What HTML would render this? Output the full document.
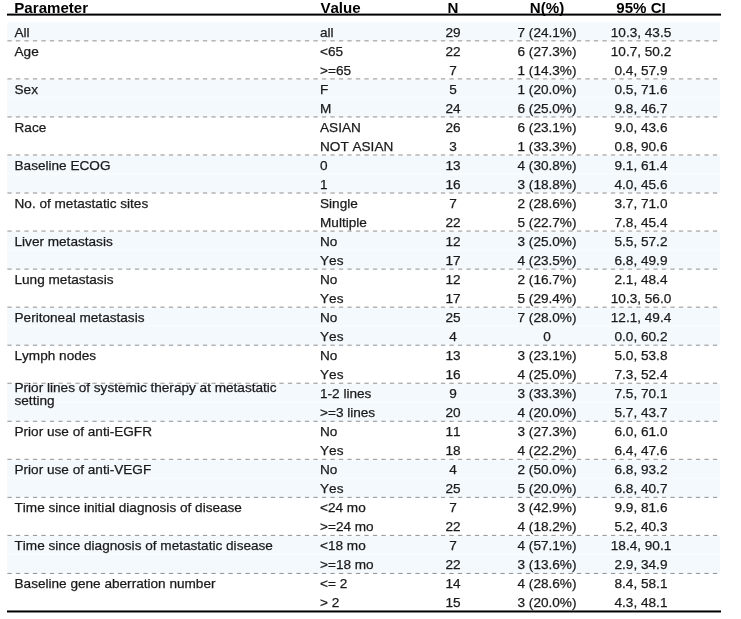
<!DOCTYPE html>
<html><head><meta charset="utf-8"><title>Table</title>
<style>
html,body{margin:0;padding:0;background:#fff;}
body{width:741px;height:619px;position:relative;overflow:hidden;font-family:"Liberation Sans",Arial,sans-serif;color:#1a1a1a;font-kerning:none;}
.h{position:absolute;top:1px;height:14px;line-height:14px;font-size:15.1px;font-weight:bold;color:#000;white-space:nowrap;}
.r{position:absolute;left:7px;width:714px;height:19px;}
.b{background:#f2f7fc;}
.c{-webkit-text-stroke:0.25px #1a1a1a;position:absolute;height:19px;line-height:19px;font-size:13.6px;white-space:nowrap;}
.p{left:14.5px;}
.v{left:320px;}
.n{left:403px;width:100px;text-align:center;}
.q{left:497px;width:100px;text-align:center;}
.ci{left:591px;width:100px;text-align:center;}
.d{position:absolute;left:7px;width:714px;height:1px;background:repeating-linear-gradient(90deg,#9a9a9a 0,#9a9a9a 4px,transparent 4px,transparent 8.5px);}
.hl{position:absolute;left:7px;width:714px;height:2px;background:#000;}
.two{line-height:13px;height:26px;}
</style></head><body>

<svg width="741" height="619" viewBox="0 0 741 619" style="position:absolute;left:0;top:0">
<rect x="7.2" y="22.35" width="713" height="18.52" fill="#f4f9fd"/>
<rect x="7.2" y="79.41" width="713" height="37.54" fill="#f4f9fd"/>
<rect x="7.2" y="97.33" width="713" height="1.2" fill="#f9fcfe"/>
<rect x="7.2" y="155.49" width="713" height="37.54" fill="#f4f9fd"/>
<rect x="7.2" y="173.41" width="713" height="1.2" fill="#f9fcfe"/>
<rect x="7.2" y="231.57" width="713" height="37.54" fill="#f4f9fd"/>
<rect x="7.2" y="249.49" width="713" height="1.2" fill="#f9fcfe"/>
<rect x="7.2" y="307.65" width="713" height="37.54" fill="#f4f9fd"/>
<rect x="7.2" y="325.57" width="713" height="1.2" fill="#f9fcfe"/>
<rect x="7.2" y="383.73" width="713" height="37.54" fill="#f4f9fd"/>
<rect x="7.2" y="401.65" width="713" height="1.2" fill="#f9fcfe"/>
<rect x="7.2" y="459.81" width="713" height="37.54" fill="#f4f9fd"/>
<rect x="7.2" y="477.73" width="713" height="1.2" fill="#f9fcfe"/>
<rect x="7.2" y="535.89" width="713" height="37.54" fill="#f4f9fd"/>
<rect x="7.2" y="553.81" width="713" height="1.2" fill="#f9fcfe"/>
<line x1="7.4" x2="717.4" y1="40.87" y2="40.87" stroke="#909090" stroke-width="1" stroke-dasharray="4.3 4.2"/>
<line x1="7.4" x2="717.4" y1="78.91" y2="78.91" stroke="#909090" stroke-width="1" stroke-dasharray="4.3 4.2"/>
<line x1="7.4" x2="717.4" y1="116.95" y2="116.95" stroke="#909090" stroke-width="1" stroke-dasharray="4.3 4.2"/>
<line x1="7.4" x2="717.4" y1="154.99" y2="154.99" stroke="#909090" stroke-width="1" stroke-dasharray="4.3 4.2"/>
<line x1="7.4" x2="717.4" y1="193.03" y2="193.03" stroke="#909090" stroke-width="1" stroke-dasharray="4.3 4.2"/>
<line x1="7.4" x2="717.4" y1="231.07" y2="231.07" stroke="#909090" stroke-width="1" stroke-dasharray="4.3 4.2"/>
<line x1="7.4" x2="717.4" y1="269.11" y2="269.11" stroke="#909090" stroke-width="1" stroke-dasharray="4.3 4.2"/>
<line x1="7.4" x2="717.4" y1="307.15" y2="307.15" stroke="#909090" stroke-width="1" stroke-dasharray="4.3 4.2"/>
<line x1="7.4" x2="717.4" y1="345.19" y2="345.19" stroke="#909090" stroke-width="1" stroke-dasharray="4.3 4.2"/>
<line x1="7.4" x2="717.4" y1="383.23" y2="383.23" stroke="#909090" stroke-width="1" stroke-dasharray="4.3 4.2"/>
<line x1="7.4" x2="717.4" y1="421.27" y2="421.27" stroke="#909090" stroke-width="1" stroke-dasharray="4.3 4.2"/>
<line x1="7.4" x2="717.4" y1="459.31" y2="459.31" stroke="#909090" stroke-width="1" stroke-dasharray="4.3 4.2"/>
<line x1="7.4" x2="717.4" y1="497.35" y2="497.35" stroke="#909090" stroke-width="1" stroke-dasharray="4.3 4.2"/>
<line x1="7.4" x2="717.4" y1="535.39" y2="535.39" stroke="#909090" stroke-width="1" stroke-dasharray="4.3 4.2"/>
<line x1="7.4" x2="717.4" y1="573.43" y2="573.43" stroke="#909090" stroke-width="1" stroke-dasharray="4.3 4.2"/>
<rect x="7" y="13.6" width="714" height="2" fill="#000"/>
<rect x="7" y="610.47" width="714" height="2" fill="#000"/>
</svg>
<div class="h" style="left:14.3px">Parameter</div>
<div class="h" style="left:320.4px">Value</div>
<div class="h n" style="left:403px;width:100px;text-align:center">N</div>
<div class="h" style="left:497px;width:100px;text-align:center">N(%)</div>
<div class="h" style="left:591px;width:100px;text-align:center">95% CI</div>
<div class="c p" style="top:22.85px">All</div>
<div class="c v" style="top:22.85px">all</div>
<div class="c n" style="top:22.85px">29</div>
<div class="c q" style="top:22.85px">7 (24.1%)</div>
<div class="c ci" style="top:22.85px">10.3, 43.5</div>
<div class="c p" style="top:41.870000000000005px">Age</div>
<div class="c v" style="top:41.870000000000005px">&lt;65</div>
<div class="c n" style="top:41.870000000000005px">22</div>
<div class="c q" style="top:41.870000000000005px">6 (27.3%)</div>
<div class="c ci" style="top:41.870000000000005px">10.7, 50.2</div>
<div class="c v" style="top:60.89px">&gt;=65</div>
<div class="c n" style="top:60.89px">7</div>
<div class="c q" style="top:60.89px">1 (14.3%)</div>
<div class="c ci" style="top:60.89px">0.4, 57.9</div>
<div class="c p" style="top:79.91px">Sex</div>
<div class="c v" style="top:79.91px">F</div>
<div class="c n" style="top:79.91px">5</div>
<div class="c q" style="top:79.91px">1 (20.0%)</div>
<div class="c ci" style="top:79.91px">0.5, 71.6</div>
<div class="c v" style="top:98.93px">M</div>
<div class="c n" style="top:98.93px">24</div>
<div class="c q" style="top:98.93px">6 (25.0%)</div>
<div class="c ci" style="top:98.93px">9.8, 46.7</div>
<div class="c p" style="top:117.94999999999999px">Race</div>
<div class="c v" style="top:117.94999999999999px">ASIAN</div>
<div class="c n" style="top:117.94999999999999px">26</div>
<div class="c q" style="top:117.94999999999999px">6 (23.1%)</div>
<div class="c ci" style="top:117.94999999999999px">9.0, 43.6</div>
<div class="c v" style="top:136.97px">NOT ASIAN</div>
<div class="c n" style="top:136.97px">3</div>
<div class="c q" style="top:136.97px">1 (33.3%)</div>
<div class="c ci" style="top:136.97px">0.8, 90.6</div>
<div class="c p" style="top:155.98999999999998px">Baseline ECOG</div>
<div class="c v" style="top:155.98999999999998px">0</div>
<div class="c n" style="top:155.98999999999998px">13</div>
<div class="c q" style="top:155.98999999999998px">4 (30.8%)</div>
<div class="c ci" style="top:155.98999999999998px">9.1, 61.4</div>
<div class="c v" style="top:175.01px">1</div>
<div class="c n" style="top:175.01px">16</div>
<div class="c q" style="top:175.01px">3 (18.8%)</div>
<div class="c ci" style="top:175.01px">4.0, 45.6</div>
<div class="c p" style="top:194.03px">No. of metastatic sites</div>
<div class="c v" style="top:194.03px">Single</div>
<div class="c n" style="top:194.03px">7</div>
<div class="c q" style="top:194.03px">2 (28.6%)</div>
<div class="c ci" style="top:194.03px">3.7, 71.0</div>
<div class="c v" style="top:213.04999999999998px">Multiple</div>
<div class="c n" style="top:213.04999999999998px">22</div>
<div class="c q" style="top:213.04999999999998px">5 (22.7%)</div>
<div class="c ci" style="top:213.04999999999998px">7.8, 45.4</div>
<div class="c p" style="top:232.07px">Liver metastasis</div>
<div class="c v" style="top:232.07px">No</div>
<div class="c n" style="top:232.07px">12</div>
<div class="c q" style="top:232.07px">3 (25.0%)</div>
<div class="c ci" style="top:232.07px">5.5, 57.2</div>
<div class="c v" style="top:251.09px">Yes</div>
<div class="c n" style="top:251.09px">17</div>
<div class="c q" style="top:251.09px">4 (23.5%)</div>
<div class="c ci" style="top:251.09px">6.8, 49.9</div>
<div class="c p" style="top:270.11px">Lung metastasis</div>
<div class="c v" style="top:270.11px">No</div>
<div class="c n" style="top:270.11px">12</div>
<div class="c q" style="top:270.11px">2 (16.7%)</div>
<div class="c ci" style="top:270.11px">2.1, 48.4</div>
<div class="c v" style="top:289.13px">Yes</div>
<div class="c n" style="top:289.13px">17</div>
<div class="c q" style="top:289.13px">5 (29.4%)</div>
<div class="c ci" style="top:289.13px">10.3, 56.0</div>
<div class="c p" style="top:308.15000000000003px">Peritoneal metastasis</div>
<div class="c v" style="top:308.15000000000003px">No</div>
<div class="c n" style="top:308.15000000000003px">25</div>
<div class="c q" style="top:308.15000000000003px">7 (28.0%)</div>
<div class="c ci" style="top:308.15000000000003px">12.1, 49.4</div>
<div class="c v" style="top:327.17px">Yes</div>
<div class="c n" style="top:327.17px">4</div>
<div class="c q" style="top:327.17px">0</div>
<div class="c ci" style="top:327.17px">0.0, 60.2</div>
<div class="c p" style="top:346.19px">Lymph nodes</div>
<div class="c v" style="top:346.19px">No</div>
<div class="c n" style="top:346.19px">13</div>
<div class="c q" style="top:346.19px">3 (23.1%)</div>
<div class="c ci" style="top:346.19px">5.0, 53.8</div>
<div class="c v" style="top:365.21000000000004px">Yes</div>
<div class="c n" style="top:365.21000000000004px">16</div>
<div class="c q" style="top:365.21000000000004px">4 (25.0%)</div>
<div class="c ci" style="top:365.21000000000004px">7.3, 52.4</div>
<div class="c p two" style="top:381.23px">Prior lines of systemic therapy at metastatic<br>setting</div>
<div class="c v" style="top:384.23px">1-2 lines</div>
<div class="c n" style="top:384.23px">9</div>
<div class="c q" style="top:384.23px">3 (33.3%)</div>
<div class="c ci" style="top:384.23px">7.5, 70.1</div>
<div class="c v" style="top:403.25px">&gt;=3 lines</div>
<div class="c n" style="top:403.25px">20</div>
<div class="c q" style="top:403.25px">4 (20.0%)</div>
<div class="c ci" style="top:403.25px">5.7, 43.7</div>
<div class="c p" style="top:422.27000000000004px">Prior use of anti-EGFR</div>
<div class="c v" style="top:422.27000000000004px">No</div>
<div class="c n" style="top:422.27000000000004px">11</div>
<div class="c q" style="top:422.27000000000004px">3 (27.3%)</div>
<div class="c ci" style="top:422.27000000000004px">6.0, 61.0</div>
<div class="c v" style="top:441.29px">Yes</div>
<div class="c n" style="top:441.29px">18</div>
<div class="c q" style="top:441.29px">4 (22.2%)</div>
<div class="c ci" style="top:441.29px">6.4, 47.6</div>
<div class="c p" style="top:460.31px">Prior use of anti-VEGF</div>
<div class="c v" style="top:460.31px">No</div>
<div class="c n" style="top:460.31px">4</div>
<div class="c q" style="top:460.31px">2 (50.0%)</div>
<div class="c ci" style="top:460.31px">6.8, 93.2</div>
<div class="c v" style="top:479.33000000000004px">Yes</div>
<div class="c n" style="top:479.33000000000004px">25</div>
<div class="c q" style="top:479.33000000000004px">5 (20.0%)</div>
<div class="c ci" style="top:479.33000000000004px">6.8, 40.7</div>
<div class="c p" style="top:498.35px">Time since initial diagnosis of disease</div>
<div class="c v" style="top:498.35px">&lt;24 mo</div>
<div class="c n" style="top:498.35px">7</div>
<div class="c q" style="top:498.35px">3 (42.9%)</div>
<div class="c ci" style="top:498.35px">9.9, 81.6</div>
<div class="c v" style="top:517.37px">&gt;=24 mo</div>
<div class="c n" style="top:517.37px">22</div>
<div class="c q" style="top:517.37px">4 (18.2%)</div>
<div class="c ci" style="top:517.37px">5.2, 40.3</div>
<div class="c p" style="top:536.39px">Time since diagnosis of metastatic disease</div>
<div class="c v" style="top:536.39px">&lt;18 mo</div>
<div class="c n" style="top:536.39px">7</div>
<div class="c q" style="top:536.39px">4 (57.1%)</div>
<div class="c ci" style="top:536.39px">18.4, 90.1</div>
<div class="c v" style="top:555.41px">&gt;=18 mo</div>
<div class="c n" style="top:555.41px">22</div>
<div class="c q" style="top:555.41px">3 (13.6%)</div>
<div class="c ci" style="top:555.41px">2.9, 34.9</div>
<div class="c p" style="top:574.4300000000001px">Baseline gene aberration number</div>
<div class="c v" style="top:574.4300000000001px">&lt;= 2</div>
<div class="c n" style="top:574.4300000000001px">14</div>
<div class="c q" style="top:574.4300000000001px">4 (28.6%)</div>
<div class="c ci" style="top:574.4300000000001px">8.4, 58.1</div>
<div class="c v" style="top:593.45px">&gt; 2</div>
<div class="c n" style="top:593.45px">15</div>
<div class="c q" style="top:593.45px">3 (20.0%)</div>
<div class="c ci" style="top:593.45px">4.3, 48.1</div>
</body></html>
